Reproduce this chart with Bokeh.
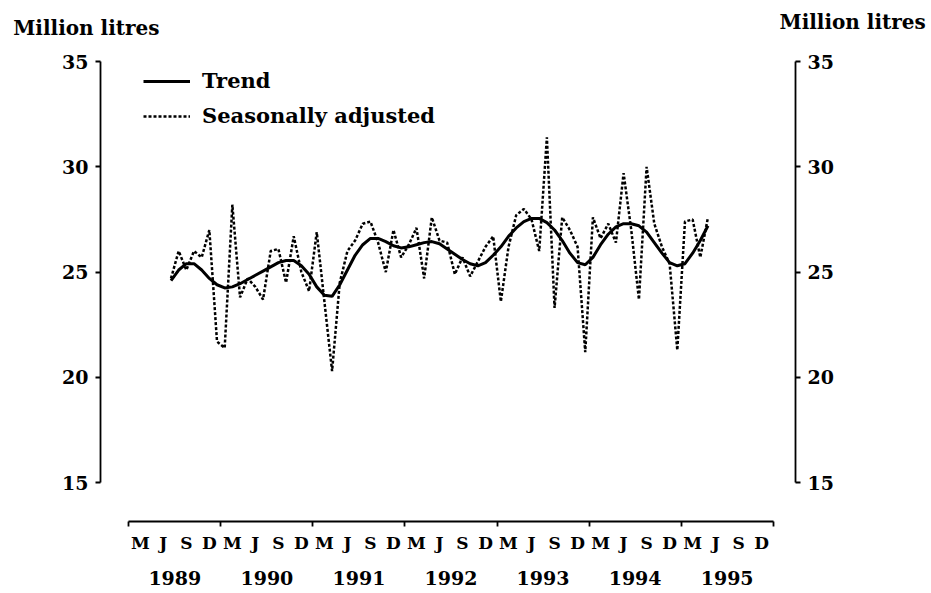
from bokeh.plotting import figure
from bokeh.layouts import column
from bokeh.models import Range1d, LinearAxis, FixedTicker, Legend, LegendItem
from bokeh.embed import file_html
from bokeh.resources import INLINE

# ---------------- data ----------------
first_year = 1989          # first year shown on the time axis
start_month = 6            # series starts June 1989 (monthly)
year_labels = ["1989", "1990", "1991", "1992", "1993", "1994", "1995"]
quarter_labels = ["M", "J", "S", "D"]
y_ticks = [15, 20, 25, 30, 35]
unit_label = "Million litres"

seasonally_adjusted = [
    24.7, 26.0, 25.1, 26.0, 25.7, 27.0, 21.7,                          # 1989 Jun-Dec
    21.4, 28.2, 23.8, 24.7, 24.3, 23.7, 26.0, 26.1, 24.5, 26.7, 25.0, 24.1,  # 1990
    26.9, 23.6, 20.3, 24.5, 26.0, 26.5, 27.3, 27.4, 26.4, 25.0, 27.0, 25.7,  # 1991
    26.3, 27.1, 24.7, 27.6, 26.5, 26.4, 24.9, 25.7, 24.8, 25.5, 26.2, 26.7,  # 1992
    23.6, 26.2, 27.7, 28.0, 27.5, 26.0, 31.4, 23.3, 27.6, 27.0, 26.2, 21.2,  # 1993
    27.6, 26.6, 27.3, 26.4, 29.7, 27.0, 23.7, 30.0, 27.3, 26.2, 25.4, 21.3,  # 1994
    27.4, 27.5, 25.7, 27.6,                                            # 1995 Jan-Apr
]
trend = [
    24.6, 25.1, 25.4, 25.4, 25.1, 24.7, 24.4,
    24.25, 24.3, 24.45, 24.65, 24.85, 25.05, 25.25, 25.45, 25.55, 25.55, 25.3, 24.9,
    24.3, 23.9, 23.85, 24.4, 25.1, 25.8, 26.3, 26.6, 26.6, 26.45, 26.25, 26.15,
    26.2, 26.3, 26.4, 26.45, 26.35, 26.1, 25.85, 25.6, 25.4, 25.3, 25.45, 25.8,
    26.2, 26.7, 27.1, 27.4, 27.55, 27.55, 27.35, 27.0, 26.5, 25.9, 25.45, 25.35,
    25.7, 26.3, 26.8, 27.15, 27.3, 27.3, 27.2, 26.9, 26.4, 25.9, 25.45, 25.3,
    25.4, 25.9, 26.5, 27.2,
]

# month positions (months since Jan of first_year, plotted mid-month)
x = [start_month - 1 + i + 0.5 for i in range(len(trend))]
n_years = len(year_labels)
year_bounds = [12 * k for k in range(n_years + 1)]
quarter_pos = [12 * k + 1.5 + 3 * q for k in range(n_years) for q in range(4)]
quarter_text = {pos: quarter_labels[i % 4] for i, pos in enumerate(quarter_pos)}
year_pos = [12 * k + 6 for k in range(n_years)]
year_text = {pos: lab for pos, lab in zip(year_pos, year_labels)}

FONT = "DejaVu Serif"
W = 931
HEAD_H = 45
MAIN_H = 593 - HEAD_H

# ---------------- header strip with the two unit labels ----------------
head = figure(width=W, height=HEAD_H, output_backend="svg", toolbar_location=None,
              x_range=Range1d(0, W), y_range=Range1d(HEAD_H, 0),
              x_axis_type=None, y_axis_type=None,
              min_border=0, min_border_left=0, min_border_right=0,
              min_border_top=0, min_border_bottom=0)
head.frame_align = False
head.outline_line_color = None
head.grid.visible = False
head.text(x=[12.7, 779], y=[27, 21], text=[unit_label, unit_label],
          text_font={"value": FONT}, text_font_style="bold", text_font_size="20px",
          text_baseline="middle", text_align="left", text_color="black")

# ---------------- main chart ----------------
p = figure(width=W, height=MAIN_H, output_backend="svg", toolbar_location=None,
           x_range=Range1d(-3.689, 86.909), y_range=Range1d(13.16, 35.0),
           x_axis_type=None, y_axis_type=None,
           min_border_left=100, min_border_right=136, min_border_top=16,
           min_border_bottom=72)
p.frame_align = False
p.outline_line_color = None
p.background_fill_color = "white"


def y_axis():
    ax = LinearAxis(ticker=FixedTicker(ticks=y_ticks), bounds=(15, 35))
    ax.major_tick_out = 5
    ax.major_tick_in = 0
    ax.minor_tick_out = 0
    ax.minor_tick_in = 0
    ax.axis_line_width = 1.8
    ax.major_tick_line_width = 1.8
    ax.major_label_standoff = 7
    ax.major_label_text_font = FONT
    ax.major_label_text_font_style = "bold"
    ax.major_label_text_font_size = "19px"
    ax.major_label_text_color = "black"
    return ax


p.add_layout(y_axis(), "left")
p.add_layout(y_axis(), "right")

xa = LinearAxis(ticker=FixedTicker(ticks=quarter_pos, minor_ticks=year_bounds),
                bounds=(0, 12 * n_years), major_label_overrides=quarter_text)
xa.major_tick_out = 0
xa.major_tick_in = 0
xa.major_tick_line_color = None
xa.minor_tick_out = 5
xa.minor_tick_in = 0
xa.minor_tick_line_width = 1.8
xa.axis_line_width = 2
xa.major_label_standoff = 6
xa.major_label_text_font = FONT
xa.major_label_text_font_style = "bold"
xa.major_label_text_font_size = "17px"
xa.major_label_text_color = "black"
p.add_layout(xa, "below")

ya = LinearAxis(ticker=FixedTicker(ticks=year_pos), major_label_overrides=year_text)
ya.axis_line_color = None
ya.major_tick_line_color = None
ya.major_tick_out = 0
ya.major_tick_in = 0
ya.minor_tick_out = 0
ya.minor_tick_in = 0
ya.major_label_standoff = 15
ya.major_label_text_font = FONT
ya.major_label_text_font_style = "bold"
ya.major_label_text_font_size = "19px"
ya.major_label_text_color = "black"
p.add_layout(ya, "below")

r_trend = p.line(x, trend, line_color="black", line_width=3)
r_sa = p.line(x, seasonally_adjusted, line_color="black", line_width=2.5, line_dash="3 2")

legend = Legend(items=[LegendItem(label="Trend", renderers=[r_trend]),
                       LegendItem(label="Seasonally adjusted", renderers=[r_sa])],
                location=(43, 393))
legend.border_line_color = None
legend.background_fill_alpha = 0
legend.padding = 0
legend.margin = 0
legend.spacing = 10
legend.glyph_width = 47
legend.glyph_height = 20
legend.label_height = 20
legend.label_standoff = 12
legend.label_text_font = FONT
legend.label_text_font_style = "bold"
legend.label_text_font_size = "21px"
legend.label_text_color = "black"
p.add_layout(legend)

layout = column(head, p, spacing=0)
open("out.html", "w").write(file_html(layout, INLINE))
